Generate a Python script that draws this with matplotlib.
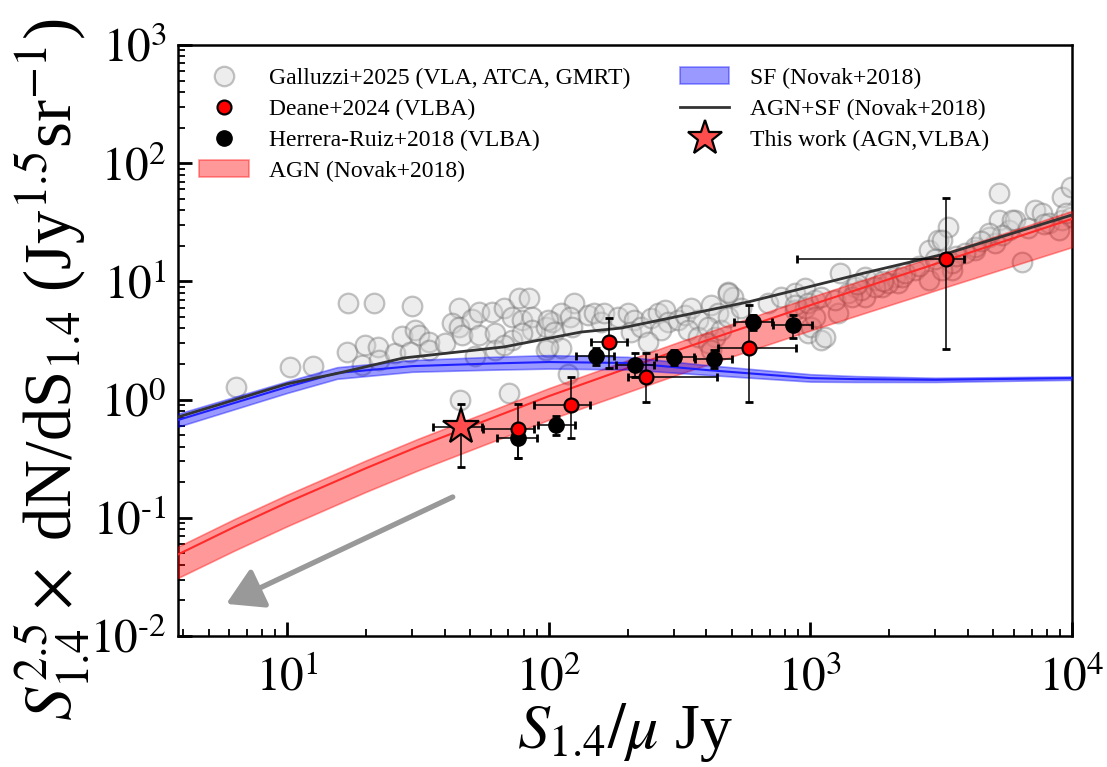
import numpy as np
import matplotlib
matplotlib.use("Agg")
import matplotlib.pyplot as plt
from matplotlib.patches import Patch
from matplotlib.lines import Line2D
from matplotlib.ticker import FuncFormatter

plt.rcParams['font.family'] = ['Liberation Serif', 'DejaVu Serif']
plt.rcParams['mathtext.fontset'] = 'stix'

# --- Galluzzi+2025 (VLA, ATCA, GMRT) ---
gal_s = [6.34, 10.2, 12.5, 17.0, 21.5, 29.9, 16.9, 19.3, 19.9, 22.2, 22.4, 25.9, 27.4, 30.8,
         31.8, 29.5, 34.7, 34.7, 40.2, 45.2, 42.6, 45.2, 46.6, 50.8, 53.9, 53.9, 52.4, 60.7,
         62.5, 62.5, 67.3, 72.3, 72.3, 76.7, 83.8, 79.0, 86.3, 86.3, 97.1, 97.1, 103, 67.3,
         79.0, 70.3, 45.9, 118,
         125, 111, 98.8, 105, 120, 123, 141, 149, 158, 163, 183, 200, 212, 206, 225, 246,
         261, 277, 285, 268, 239, 311, 330, 350, 371, 340, 371, 418, 443, 484, 506, 406,
         430, 406, 418, 456, 484, 544, 689, 774, 871, 951, 871, 951, 1040, 979, 1009, 111, 98.8,
         1102, 1277, 1295, 1479, 1614, 1763, 1614, 1871, 2104, 2168, 2512, 2827, 3085, 3370,
         2827, 3470, 4263, 4800, 5240, 5240, 5085, 5720, 6065, 6430, 7230, 7670, 8140, 9160,
         9160, 9900, 9900,
         484, 871, 979, 1102, 1240, 1394, 1040, 1135,
         3177, 5890, 5395, 4800, 4263, 3900, 3470, 3177, 2233, 1985, 1763, 1567, 1436, 8890,
         1500, 1900, 2300, 2600, 3000, 3600, 4500, 6800, 7800, 9500]
gal_y = [1.27, 1.90, 1.94, 6.61, 6.61, 6.19, 2.54, 1.96, 2.90, 2.80, 2.16, 2.49, 3.45, 3.88,
         3.52, 2.54, 3.09, 2.63, 3.03, 5.92, 4.42, 4.14, 3.52, 4.78, 5.54, 3.52, 2.34, 5.54,
         3.64, 2.63, 5.92, 5.03, 3.19, 7.19, 7.19, 4.71, 5.03, 3.88, 4.14, 2.63, 4.56, 2.90,
         3.64, 1.13, 1.00, 1.65,
         6.53, 5.37, 4.71, 3.75, 5.03, 4.14, 5.20, 5.37, 4.56, 5.37, 5.03, 5.37, 4.71, 3.75,
         4.14, 4.87, 5.37, 5.73, 4.56, 3.88, 3.09, 4.71, 5.20, 5.92, 4.71, 3.88, 3.41, 6.32,
         5.37, 8.18, 7.42, 4.14, 3.41, 2.99, 2.63, 3.88, 5.03, 5.92, 6.53, 7.42, 7.93, 8.74,
         5.73, 5.92, 6.96, 3.64, 4.14, 2.72, 2.80,
         3.19, 5.37, 11.7, 9.02, 10.96, 10.3, 7.42, 9.02, 10.96, 9.64, 12.5, 18.4, 22.4, 29.0,
         10.3, 12.5, 18.4, 23.9, 55.6, 33.1, 21.0, 27.2, 33.1, 14.7, 40.2, 37.7, 31.0, 52.1,
         33.1, 35.3, 63.3,
         7.93, 6.32, 6.53, 7.42, 6.96, 7.93, 5.03, 3.41,
         22.4, 33.1, 24.7, 25.5, 19.7, 17.3, 14.2, 12.5, 10.96, 9.64, 9.02, 8.46, 7.42, 27.2,
         9.5, 10.0, 11.8, 13.5, 15.5, 16.5, 22.0, 28.5, 30.5, 38.0]

# --- Deane+2024 (VLBA) ---
dea_s = [76.0, 122, 170, 235, 581, 3296]
dea_s_lo = [55.8, 88, 145, 200, 443, 891]
dea_s_hi = [87.7, 143, 199, 440, 883, 3880]
dea_y = [0.564, 0.895, 3.05, 1.56, 2.75, 15.4]
dea_y_lo = [0.32, 0.47, 1.84, 0.955, 0.96, 2.66]
dea_y_hi = [0.92, 1.56, 4.87, 2.46, 6.3, 50.5]

# --- Herrera-Ruiz+2018 (VLBA) ---
her_s = [76.0, 106, 151, 214, 302, 428, 603, 859]
her_s_lo = [63.6, 90.6, 127, 181, 257, 362, 510, 719]
her_s_hi = [89.9, 126, 178, 253, 360, 501, 710, 1014]
her_y = [0.47, 0.61, 2.34, 1.96, 2.28, 2.19, 4.56, 4.28]
her_y_lo = [0.32, 0.50, 1.96, 1.56, 1.96, 1.84, 3.88, 3.30]
her_y_hi = [0.58, 0.72, 2.72, 2.46, 2.63, 2.63, 5.2, 5.2]

# --- This work ---
tw_s, tw_s_lo, tw_s_hi = [46.0], [36.1], [55.7]
tw_y, tw_y_lo, tw_y_hi = [0.59], [0.27], [0.918]

# --- Novak+2018 models ---
agn_s = [3.82, 6.3, 10, 20, 31.6, 100, 316, 1000, 3162, 10000]
agn_y = [0.049, 0.084, 0.135, 0.263, 0.40, 1.07, 2.65, 6.3, 14.6, 33.8]
agn_up = [0.057, 0.098, 0.157, 0.306, 0.466, 1.25, 3.09, 7.35, 17.0, 39.5]
agn_lo = [0.031, 0.053, 0.085, 0.166, 0.252, 0.675, 1.65, 3.85, 8.7, 19.5]

sf_s = [3.82, 10, 15.5, 30, 60, 100, 200, 400, 1000, 1500, 3000, 10000]
sf_y = [0.672, 1.28, 1.68, 1.92, 2.02, 2.08, 2.04, 1.78, 1.52, 1.49, 1.47, 1.52]
sf_up = [0.76, 1.43, 1.88, 2.16, 2.30, 2.38, 2.30, 1.96, 1.64, 1.58, 1.53, 1.57]
sf_lo = [0.59, 1.14, 1.50, 1.72, 1.79, 1.83, 1.80, 1.62, 1.42, 1.41, 1.41, 1.47]

tot_s = [3.82, 10, 15.6, 27.8, 67.3, 132.7, 189, 578, 1611, 3380, 10000]
tot_y = [0.712, 1.36, 1.67, 2.25, 2.79, 3.73, 4.03, 6.70, 11.8, 17.4, 36.5]

# arrow (direction to fainter fluxes)
arrow_from = (42.9, 0.150)
arrow_to = (5.84, 0.0187)

fig = plt.figure(figsize=(11.07, 7.67), dpi=100)
ax = fig.add_axes([0.1608, 0.1708, 0.8076, 0.7705])

ax.scatter(gal_s, gal_y, s=200, facecolor=(0.83, 0.83, 0.83), edgecolor=(0.42, 0.42, 0.42),
           linewidth=1.6, alpha=0.4, zorder=2)

ax.fill_between(agn_s, agn_lo, agn_up, color='red', alpha=0.4, lw=1.2, zorder=3)
ax.plot(agn_s, agn_y, color='#ff2a2a', lw=1.5, zorder=3)
ax.fill_between(sf_s, sf_lo, sf_up, color='blue', alpha=0.4, lw=1.2, zorder=3)
ax.plot(sf_s, sf_y, color='#2020ff', lw=1.5, zorder=3)
ax.plot(tot_s, tot_y, color='#333333', lw=2, zorder=4)

def err(v, lo, hi):
    v = np.array(v)
    return [v - np.array(lo), np.array(hi) - v]

ekw = dict(fmt='none', ecolor='black', elinewidth=1.1, capsize=3, capthick=2, zorder=5)
ax.errorbar(her_s, her_y, xerr=err(her_s, her_s_lo, her_s_hi),
            yerr=err(her_y, her_y_lo, her_y_hi), **ekw)
ax.errorbar(dea_s, dea_y, xerr=err(dea_s, dea_s_lo, dea_s_hi),
            yerr=err(dea_y, dea_y_lo, dea_y_hi), **ekw)
ax.errorbar(tw_s, tw_y, xerr=err(tw_s, tw_s_lo, tw_s_hi),
            yerr=err(tw_y, tw_y_lo, tw_y_hi), **ekw)

ax.plot(her_s, her_y, 'o', ms=11, mfc='black', mec='black', zorder=6)
ax.plot(dea_s, dea_y, 'o', ms=10, mfc='red', mec='black', mew=1.6, zorder=7)
ax.plot(tw_s, tw_y, '*', ms=27, mfc='#ff4d4d', mec='black', mew=1.6, zorder=8)

ax.annotate('', xy=arrow_to, xytext=arrow_from,
            arrowprops=dict(arrowstyle='-|>,head_length=2.2,head_width=1.3',
                            color='#999999', lw=3.8, shrinkA=0, shrinkB=0), zorder=1)

ax.set_xscale('log')
ax.set_yscale('log')
ax.set_xlim(3.82, 1e4)
ax.set_ylim(1e-2, 1e3)

fmt = FuncFormatter(lambda v, p: r'$10^{\text{%d}}$' % round(np.log10(v)))
ax.xaxis.set_major_formatter(fmt)
ax.yaxis.set_major_formatter(fmt)
ax.tick_params(which='both', direction='in', top=False, right=False, labelsize=34)
ax.tick_params(which='major', length=10, width=2)
ax.tick_params(which='minor', length=5, width=1.3)
ax.tick_params(axis='x', pad=15)
ax.tick_params(axis='y', pad=8)
for sp in ax.spines.values():
    sp.set_linewidth(1.8)

ax.set_xlabel(r'$S_{1.4}/\mu$ Jy', fontsize=46, labelpad=0)
ax.set_ylabel(r'$S_{1.4}^{2.5}\times$ dN/dS$_{1.4}$ (Jy$^{1.5}$sr$^{-1}$)', fontsize=48)
ax.yaxis.set_label_coords(-0.097, 0.45)

handles = [
    Line2D([], [], ls='none', marker='o', ms=14, mfc=(0.83, 0.83, 0.83, 0.4),
           mec=(0.42, 0.42, 0.42, 0.4), mew=1.6),
    Line2D([], [], ls='none', marker='o', ms=10, mfc='red', mec='black', mew=1.6),
    Line2D([], [], ls='none', marker='o', ms=11, mfc='black', mec='black'),
    Patch(facecolor='red', edgecolor='red', alpha=0.4, lw=1.2),
    Patch(facecolor='blue', edgecolor='blue', alpha=0.4, lw=1.2),
    Line2D([], [], color='#333333', lw=2),
    Line2D([], [], ls='none', marker='*', ms=26, mfc='#ff4d4d', mec='black', mew=1.6),
]
labels = ['Galluzzi+2025 (VLA, ATCA, GMRT)', 'Deane+2024 (VLBA)', 'Herrera-Ruiz+2018 (VLBA)',
          'AGN (Novak+2018)', 'SF (Novak+2018)', 'AGN+SF (Novak+2018)', 'This work (AGN,VLBA)']
ax.legend(handles, labels, ncol=2, loc='upper left', bbox_to_anchor=(0.0, 0.998),
          frameon=False, fontsize=17, handlelength=2.1, handletextpad=0.85,
          columnspacing=2.1, labelspacing=0.4)

fig.savefig('out.png', dpi=100)
